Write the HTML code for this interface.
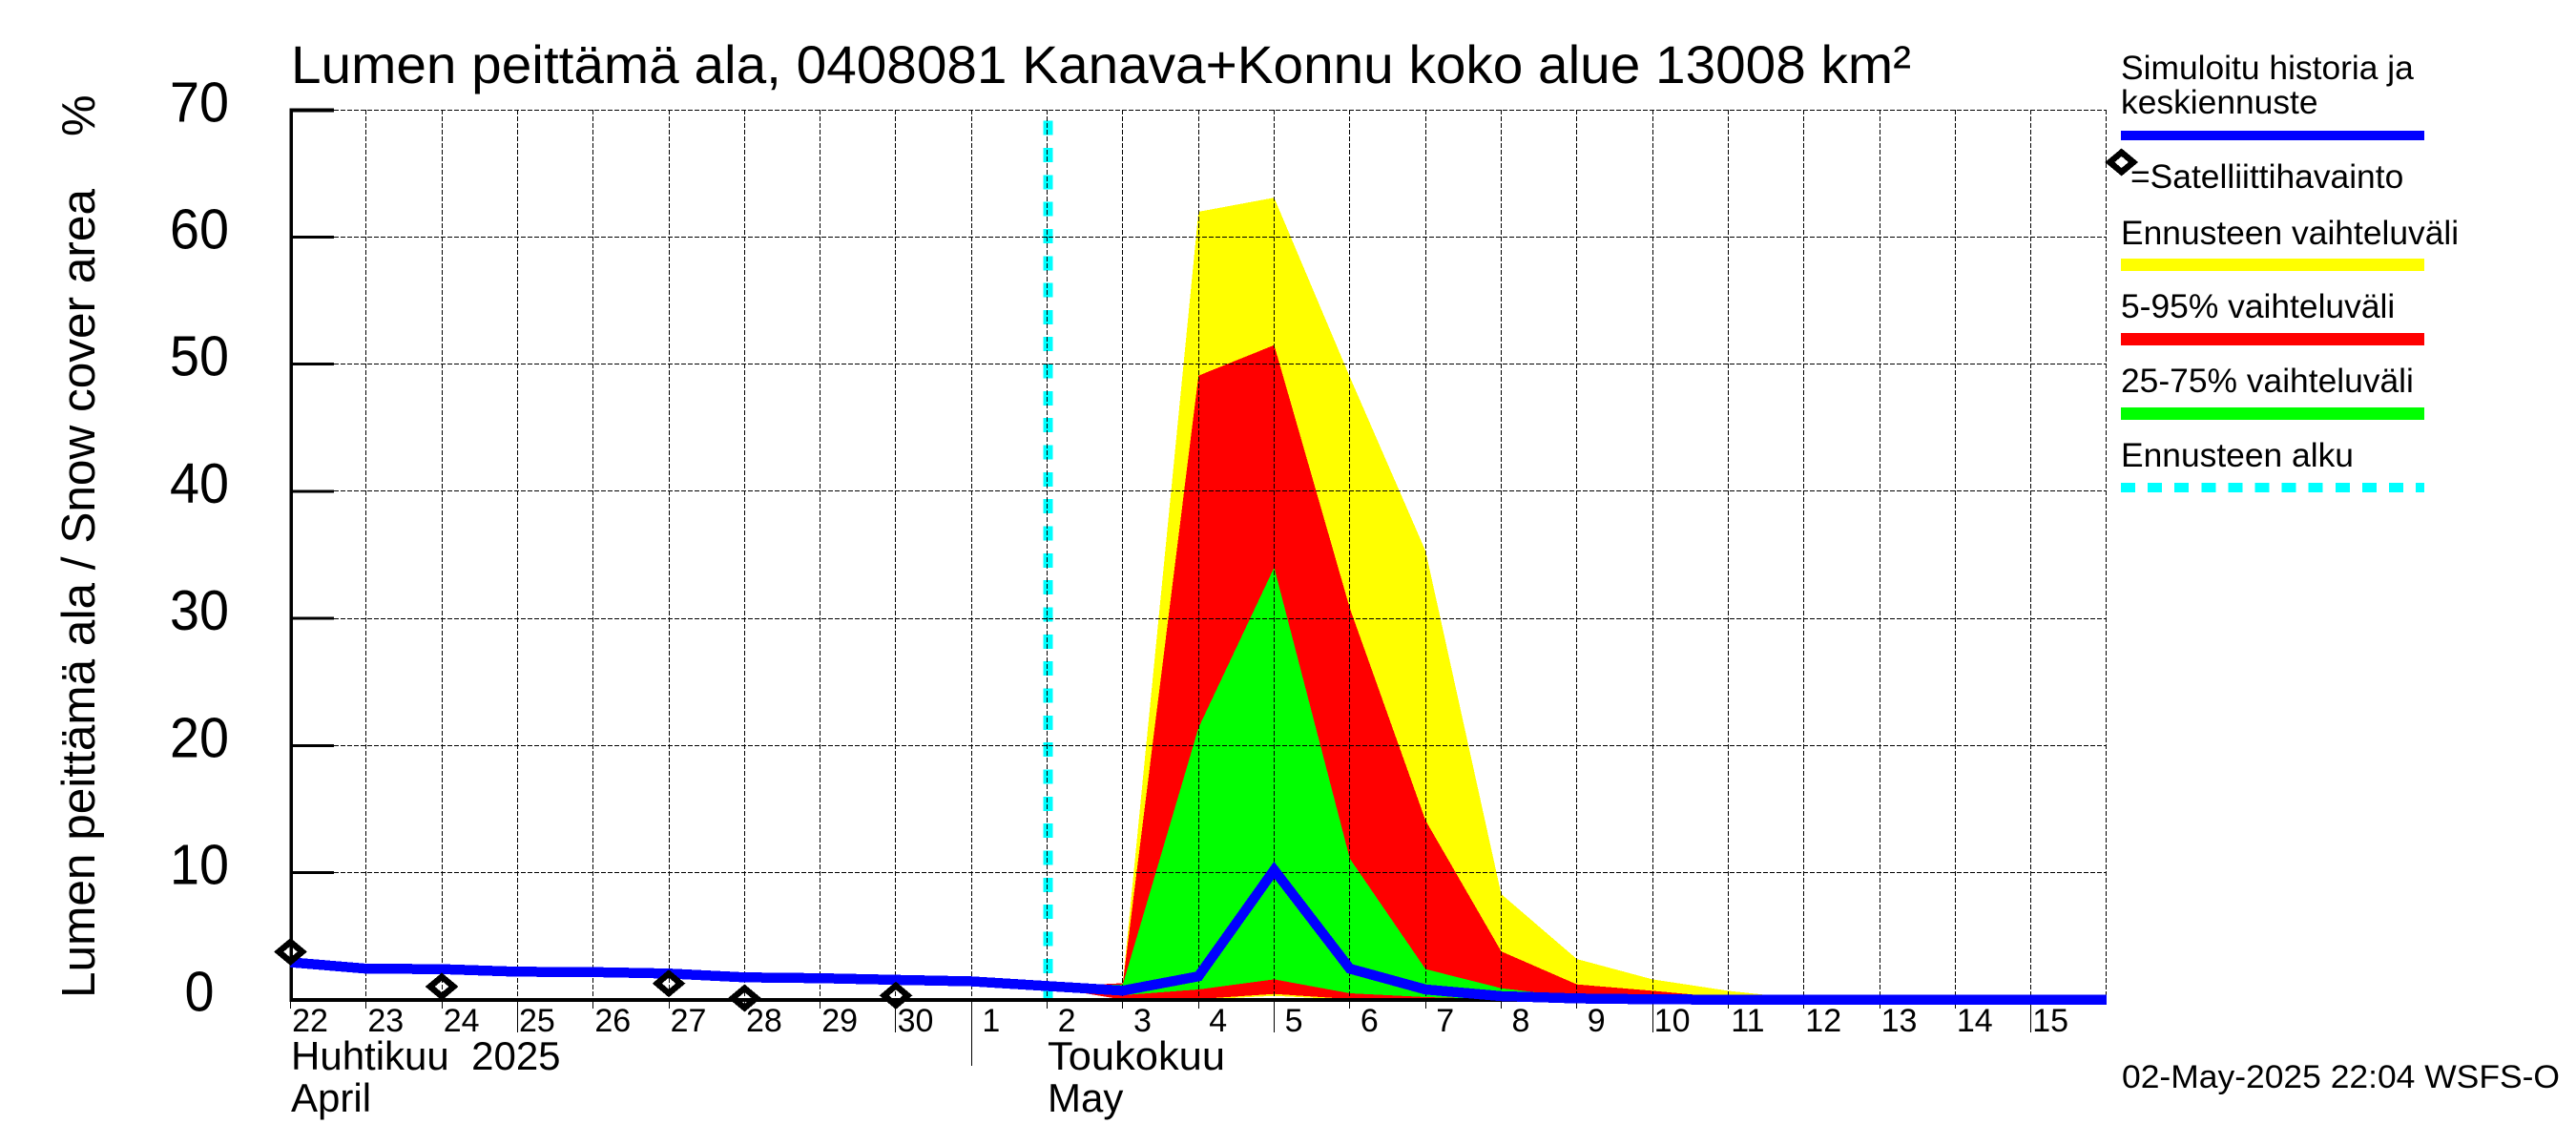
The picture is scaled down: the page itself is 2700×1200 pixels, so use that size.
<!DOCTYPE html>
<html lang="fi">
<head>
<meta charset="utf-8">
<title>Lumen peittämä ala</title>
<style>
  html, body { margin: 0; padding: 0; background: #fff; }
  svg { display: block; }
  text { font-family: "Liberation Sans", Arial, sans-serif; fill: #000; }
</style>
</head>
<body>
<svg id="chart" xmlns="http://www.w3.org/2000/svg" width="2700" height="1200" viewBox="0 0 2700 1200">
  <rect x="0" y="0" width="2700" height="1200" fill="#fff"/>
  <g id="bands" shape-rendering="crispEdges"></g>
  <g id="forecast-start" shape-rendering="crispEdges"></g>
  <g id="grid" shape-rendering="crispEdges"></g>
  <g id="axes" shape-rendering="crispEdges"></g>
  <g id="x-labels"></g>
  <g id="y-labels"></g>
  <g id="median" shape-rendering="crispEdges"></g>
  <g id="observations" shape-rendering="crispEdges"></g>

  <text x="305" y="87" font-size="56" textLength="1698" lengthAdjust="spacingAndGlyphs">Lumen peittämä ala, 0408081 Kanava+Konnu koko alue 13008 km²</text>
  <text transform="translate(99 1046) rotate(-90)" font-size="49" textLength="848" lengthAdjust="spacingAndGlyphs">Lumen peittämä ala / Snow cover area</text>
  <text transform="translate(99 143) rotate(-90)" font-size="49">%</text>

  <text x="305" y="1121" font-size="42" xml:space="preserve">Huhtikuu  2025</text>
  <text x="305" y="1165" font-size="42">April</text>
  <text x="1098" y="1121" font-size="42" textLength="186" lengthAdjust="spacingAndGlyphs">Toukokuu</text>
  <text x="1098" y="1165" font-size="42">May</text>

  <g>
    <text x="2223" y="83" font-size="35.4">Simuloitu historia ja</text>
    <text x="2223" y="119" font-size="35.4">keskiennuste</text>
    <rect x="2223" y="137" width="318" height="10" fill="#0000ff"/>
    <polygon points="2223.7,159.7 2236,170 2223.7,180.3 2211.4,170" fill="none" stroke="#000" stroke-width="6.5" stroke-linejoin="miter" shape-rendering="crispEdges"/>
    <text x="2233" y="197" font-size="35.4">=Satelliittihavainto</text>
    <text x="2223" y="256" font-size="35.4">Ennusteen vaihteluväli</text>
    <rect x="2223" y="271" width="318" height="13" fill="#ffff00"/>
    <text x="2223" y="333" font-size="35.4">5-95% vaihteluväli</text>
    <rect x="2223" y="349" width="318" height="13" fill="#ff0000"/>
    <text x="2223" y="411" font-size="35.4">25-75% vaihteluväli</text>
    <rect x="2223" y="427" width="318" height="13" fill="#00ff00"/>
    <text x="2223" y="489" font-size="35.4">Ennusteen alku</text>
    <line x1="2223" y1="511" x2="2541" y2="511" stroke="#00ffff" stroke-width="10" stroke-dasharray="15 13.1" shape-rendering="crispEdges"/>
  </g>

  <text x="2224" y="1140" font-size="34" textLength="459" lengthAdjust="spacingAndGlyphs">02-May-2025 22:04 WSFS-O</text>
</svg>

<script>
// ---- chart data ----
const dayLabels = ["22","23","24","25","26","27","28","29","30","1","2","3","4","5","6","7","8","9","10","11","12","13","14","15"];
const yTicks = [0,10,20,30,40,50,60,70];

// simulated history and median forecast, one value per day
const medianValues = [2.94,2.44,2.40,2.20,2.17,2.06,1.76,1.69,1.56,1.44,1.07,0.71,1.84,10.2,2.44,0.80,0.28,0.10,0.03,0,0,0,0,0,0];

// forecast bands, starting on 2 May
const bandStartDay = 10;
const rangeMax = [1.0,1.3,62.0,63.1,49.0,35.3,8.3,3.2,1.6,0.7,0.05,0,0,0,0];
const p95 = [1.0,1.3,49.1,51.5,30.8,14.1,3.8,1.2,0.7,0.15,0,0,0,0,0];
const p75 = [1.0,1.2,21.4,34.0,11.1,2.4,0.9,0.2,0.05,0,0,0,0,0,0];
const p25 = [1.0,0.35,0.8,1.6,0.5,0.2,0.05,0,0,0,0,0,0,0,0];
const p5 = [1.0,0,0.05,0.45,0.05,0,0,0,0,0,0,0,0,0,0];
const rangeMin = [1.0,0,0,0.3,0,0,0,0,0,0,0,0,0,0,0];

// satellite observations: day index and value
const obsDays = [0,2,5,6,8];
const obsValues = [3.77,1.03,1.28,0.13,0.33];

// forecast start, as day index
const forecastStartDay = 10;

// ---- axis functions ----
function xScale(d) { return 304.5 + 79.31 * d; }
function yScale(v) { return 1047.7 - 13.32 * v; }
function snap(p) { return Math.floor(p) + 0.5; }

const NS = "http://www.w3.org/2000/svg";
function make(parent, tag, attrs, txt) {
  const e = document.createElementNS(NS, tag);
  for (const k in attrs) e.setAttribute(k, attrs[k]);
  if (txt !== undefined) e.textContent = txt;
  document.getElementById(parent).appendChild(e);
  return e;
}

// ---- bands ----
function bandPoints(upper, lower) {
  const pts = [];
  upper.forEach(function (v, i) { pts.push(xScale(bandStartDay + i).toFixed(1) + "," + yScale(v).toFixed(1)); });
  for (let i = lower.length - 1; i >= 0; i--) { pts.push(xScale(bandStartDay + i).toFixed(1) + "," + yScale(lower[i]).toFixed(1)); }
  return pts.join(" ");
}
const yellowBand = make("bands", "polygon", { points: bandPoints(rangeMax, rangeMin), fill: "#ffff00" });


const redBand = make("bands", "polygon", { points: bandPoints(p95, p5), fill: "#ff0000" });


const greenBand = make("bands", "polygon", { points: bandPoints(p75, p25), fill: "#00ff00" });



// ---- forecast start ----
const startLine = make("forecast-start", "line", {
  x1: xScale(forecastStartDay) + 0.7, x2: xScale(forecastStartDay) + 0.7,
  y1: 126.6, y2: 1048, stroke: "#00ffff", "stroke-width": 10, "stroke-dasharray": "15 13.33"
});



// ---- grid ----
yTicks.forEach(function (t) {
  if (t === 0) return;
  const gy = make("grid", "line", {
    x1: 350, x2: 2208, y1: snap(yScale(t)), y2: snap(yScale(t)),
    stroke: "#000", "stroke-width": 1, "stroke-dasharray": "5 2"
  });
  
  
});
for (let d = 1; d <= dayLabels.length; d++) {
  const gx = make("grid", "line", {
    x1: snap(xScale(d)), x2: snap(xScale(d)), y1: 115, y2: 1047,
    stroke: "#000", "stroke-width": 1, "stroke-dasharray": "5 2"
  });
  
  
}

// ---- axes ----
const yAxisLine = make("axes", "rect", { x: 303.5, y: 113.5, width: 3.5, height: 936, fill: "#000" });


const xAxisLine = make("axes", "rect", { x: 303.5, y: 1046, width: 1904.5, height: 4, fill: "#000" });



yTicks.forEach(function (t) {
  const h = t === 70 ? 4 : 3;
  if (t !== 0) {
    const tk = make("axes", "rect", { x: 305, y: yScale(t) - h / 2, width: 45, height: h, fill: "#000" });
    
    
  }
  const lab = make("y-labels", "text", {
    x: 209, y: yScale(t) + 12, "font-size": 59, "text-anchor": "middle",
    textLength: String(t).length * 31, lengthAdjust: "spacingAndGlyphs"
  }, String(t));
  
  
});

dayLabels.forEach(function (label, d) {
  const num = Number(label);
  const bottom = num === 1 ? 1117 : (num % 5 === 0 ? 1082 : 1057);
  const tk = make("axes", "line", {
    x1: snap(xScale(d)), x2: snap(xScale(d)), y1: 1050, y2: bottom, stroke: "#000", "stroke-width": 1
  });
  
  
  const lab = make("x-labels", "text", { x: xScale(d) + 20.5, y: 1081, "font-size": 34, "text-anchor": "middle" }, label);
  
  
});

// ---- median line ----
const medianPts = medianValues.map(function (v, d) { return xScale(d).toFixed(1) + "," + yScale(v).toFixed(1); }).join(" ");
const medianLine = make("median", "polyline", {
  points: medianPts, fill: "none", stroke: "#0000ff", "stroke-width": 10.5,
  "stroke-linejoin": "miter", "stroke-miterlimit": 10
});



// ---- observations ----
obsDays.forEach(function (d, i) {
  const cx = xScale(d), cy = yScale(obsValues[i]);
  const pts = [[cx, cy - 10.3], [cx + 12.3, cy], [cx, cy + 10.3], [cx - 12.3, cy]]
    .map(function (p) { return p[0].toFixed(1) + "," + p[1].toFixed(1); }).join(" ");
  const mk = make("observations", "polygon", { points: pts, fill: "none", stroke: "#000", "stroke-width": 6.5, "stroke-linejoin": "miter" });
  
  
});
</script>
</body>
</html>
